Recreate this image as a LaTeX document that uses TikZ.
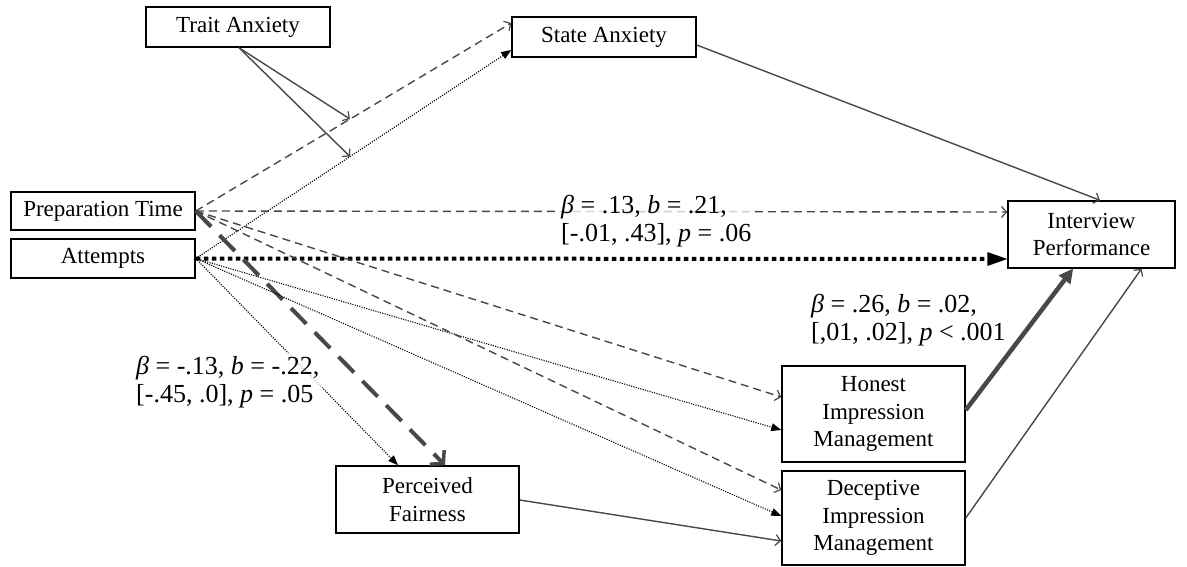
\documentclass[tikz,border=0pt]{standalone}
\usepackage{fontspec}
\setmainfont{Liberation Serif}
\usetikzlibrary{arrows.meta,calc}
\definecolor{lg}{RGB}{72,72,72}
\begin{document}
\begin{tikzpicture}[x=1pt,y=-1pt,
  box/.style={draw=black, line width=1.5pt, fill=white, align=center, inner sep=0pt, font=\fontsize{23}{27.5}\selectfont},
  lab/.style={align=left, font=\fontsize{26}{28}\selectfont, inner sep=3pt},
  dsh/.style={draw=lg, line width=1.4pt, dash pattern=on 8pt off 5pt, -{Straight Barb[length=5pt,width=11pt,line width=1.2pt]}},
  dotl/.style={draw=black, line width=1.1pt, dash pattern=on 1.1pt off 1.3pt, -{Triangle[length=10pt,width=8pt,line width=0pt]}},
  sol/.style={draw=lg, line width=1.4pt, -{Straight Barb[length=5pt,width=11pt,line width=1.2pt]}},
  bigdot/.style={draw=black, line width=4pt, dash pattern=on 4.5pt off 3.5pt, -{Triangle[length=20pt,width=14pt,line width=0pt]}},
  bigdash/.style={draw=lg, line width=4pt, dash pattern=on 22pt off 12pt, -{Straight Barb[length=9pt,width=20pt,line width=3.5pt]}},
  bigsol/.style={draw=lg, line width=4.5pt, -{Triangle[length=14pt,width=15pt,line width=0pt]}},
]
\useasboundingbox (0,0) rectangle (1187,566);
\fill[white] (0,0) rectangle (1187,566);

% nodes
\node[box, minimum width=184pt, minimum height=40pt] (ta) at (238,27) {Trait Anxiety};
\node[box, minimum width=184pt, minimum height=40pt] (sa) at (604,37) {State Anxiety};
\node[box, minimum width=184pt, minimum height=38pt] (pt) at (103,211) {Preparation Time};
\node[box, minimum width=184pt, minimum height=39pt] (att) at (103,258.5) {Attempts};
\node[box, minimum width=167pt, minimum height=67pt] (ip) at (1091.5,234.5) {Interview\\Performance};
\node[box, minimum width=183pt, minimum height=96pt] (him) at (873.5,414) {Honest\\Impression\\Management};
\node[box, minimum width=183pt, minimum height=94pt] (dim) at (873.5,518) {Deceptive\\Impression\\Management};
\node[box, minimum width=183pt, minimum height=67pt] (pf) at (427.5,499.5) {Perceived\\Fairness};

% connectors
\draw[dsh] (pt.east) -- ([yshift=14pt]sa.west);
\draw[dotl] (att.east) -- ([yshift=-13pt]sa.west);
\coordinate (m1) at ($(pt.east)!0.489!([yshift=14pt]sa.west)$);
\coordinate (m2) at ($(att.east)!0.489!([yshift=-13pt]sa.west)$);
\draw[sol] ([xshift=1pt]ta.south) -- (m1);
\draw[sol] ([xshift=1pt]ta.south) -- (m2);
\draw[sol] ([yshift=-8pt]sa.east) -- ([xshift=8.5pt]ip.north);
\draw[dsh] (pt.east) -- ([yshift=22.5pt]ip.west);
\draw[bigdot] (att.east) -- ([yshift=-24.5pt]ip.west);
\draw[bigdash] (pt.east) -- ([xshift=17.5pt]pf.north);
\draw[dotl] (att.east) -- ([xshift=-29.5pt]pf.north);
\draw[dsh] (pt.east) -- ([yshift=17pt]him.west);
\draw[dotl] (att.east) -- ([yshift=-16pt]him.west);
\draw[dsh] (pt.east) -- ([yshift=28pt]dim.west);
\draw[dotl] (att.east) -- ([yshift=2pt]dim.west);
\draw[sol] ([yshift=-0.5pt]pf.east) -- ([yshift=-23pt]dim.west);
\draw[bigsol] ([yshift=4pt]him.east) -- ([xshift=-18.5pt]ip.south);
\draw[sol] (dim.east) -- ([xshift=50pt]ip.south);

% labels
\node[lab, anchor=west, fill=white, fill opacity=0.75, text opacity=1] (l1) at (558,221)
  {\textit{β} = .13, \textit{b} = .21,\\{}[-.01, .43], \textit{p} = .06};
\node[lab, anchor=west] (l2) at (808,320)
  {\textit{β} = .26, \textit{b} = .02,\\{}[,01, .02], \textit{p} < .001};
\node[lab, anchor=west, fill=white, fill opacity=0.75, text opacity=1] (l3) at (133,382)
  {\textit{β} = -.13, \textit{b} = -.22,\\{}[-.45, .0], \textit{p} = .05};
\end{tikzpicture}
\end{document}
